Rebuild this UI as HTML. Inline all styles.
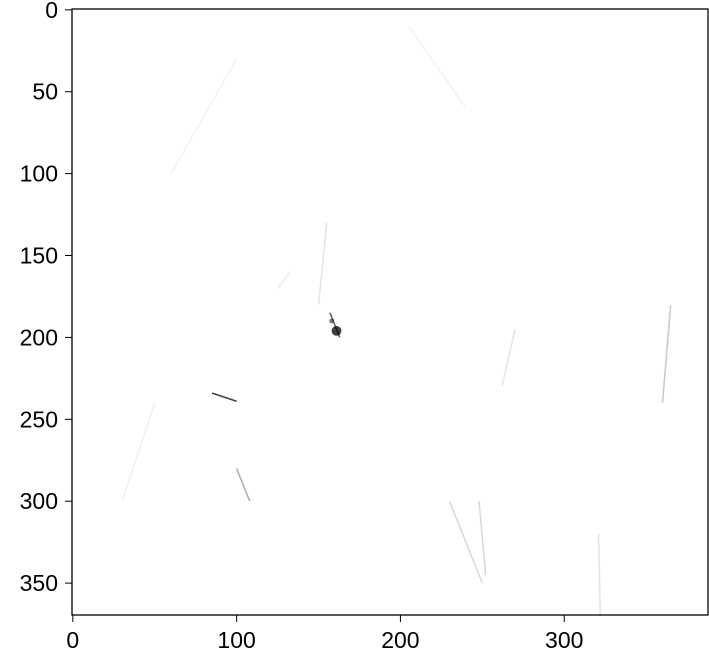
<!DOCTYPE html>
<html><head><meta charset="utf-8"><style>
body{margin:0;background:#fff;width:709px;height:661px;overflow:hidden;font-family:"Liberation Sans","DejaVu Sans",sans-serif}
</style></head><body>
<svg width="709" height="661">
<g id="img"></g>
<rect x="72" y="9" width="636" height="606" fill="none" stroke="#000" stroke-width="1.3"/>
<g id="ax"></g>
</svg>
<script>
const xTicks=[0,100,200,300];
const yTicks=[0,50,100,150,200,250,300,350];
const strokes=[[85,234,100,239,0.75],[157,185,163,200,0.6],[100,280,108,300,0.3],[248,300,252,345,0.15],[270,195,262,230,0.1],[155,130,150,180,0.1],[365,180,360,240,0.2],[321,320,322,370,0.1],[30,300,50,240,0.06],[205,10,240,60,0.05],[125,170,133,160,0.08],[250,350,230,300,0.15],[60,100,100,30,0.05]];
const spots=[[161,196,3,0.75],[158,190,1.5,0.5]];
const X=v=>72+(v+0.5)*1.638, Y=v=>9+(v+0.5)*1.638;
const ns="http://www.w3.org/2000/svg";
const ax=document.getElementById('ax'), img=document.getElementById('img');
strokes.forEach(s=>{const l=document.createElementNS(ns,'line');


l.setAttribute('x1',X(s[0]));l.setAttribute('y1',Y(s[1]));l.setAttribute('x2',X(s[2]));l.setAttribute('y2',Y(s[3]));
l.setAttribute('stroke','#000');l.setAttribute('stroke-opacity',s[4]);l.setAttribute('stroke-width','1.6');img.appendChild(l);});
spots.forEach(s=>{const c=document.createElementNS(ns,'circle');


c.setAttribute('cx',X(s[0]));c.setAttribute('cy',Y(s[1]));c.setAttribute('r',s[2]*1.638);c.setAttribute('fill','#000');c.setAttribute('fill-opacity',s[3]);img.appendChild(c);});
xTicks.forEach(t=>{const x=X(t);
const l=document.createElementNS(ns,'line');


l.setAttribute('x1',x);l.setAttribute('x2',x);l.setAttribute('y1',615);l.setAttribute('y2',622);l.setAttribute('stroke','#000');ax.appendChild(l);
const tx=document.createElementNS(ns,'text');


tx.setAttribute('x',x);tx.setAttribute('y',648);tx.setAttribute('text-anchor','middle');tx.setAttribute('font-size','23');tx.textContent=t;ax.appendChild(tx);});
yTicks.forEach(t=>{const y=Y(t);
const l=document.createElementNS(ns,'line');


l.setAttribute('x1',65);l.setAttribute('x2',72);l.setAttribute('y1',y);l.setAttribute('y2',y);l.setAttribute('stroke','#000');ax.appendChild(l);
const tx=document.createElementNS(ns,'text');


tx.setAttribute('x',58);tx.setAttribute('y',y+8);tx.setAttribute('text-anchor','end');tx.setAttribute('font-size','23');tx.textContent=t;ax.appendChild(tx);});
</script>
</body></html>
